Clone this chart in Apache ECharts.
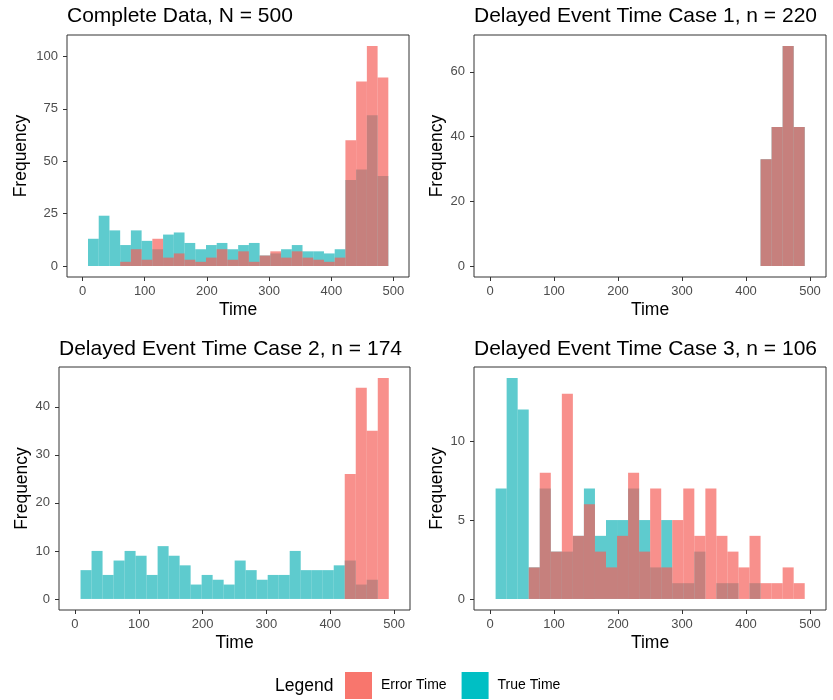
<!DOCTYPE html>
<html>
<head>
<meta charset="utf-8">
<script src="https://cdn.jsdelivr.net/npm/echarts@6/dist/echarts.min.js"></script>
<style>
  html, body { margin: 0; padding: 0; background: #fff; }
  #chart { width: 833px; height: 700px; }
</style>
</head>
<body>
<div id="chart"></div>
<script>
// Histogram bins shared by all four panels (28 bins of equal width)
const binStart = 8.75;
const binWidth = 17.25;

// Panel titles
const titles = [
  'Complete Data, N = 500',
  'Delayed Event Time Case 1, n = 220',
  'Delayed Event Time Case 2, n = 174',
  'Delayed Event Time Case 3, n = 106'
];

// Counts per bin: True Time
const trueAll   = [13,24,17,10,17,12,8,15,16,11,8,10,11,8,10,11,5,6,8,10,7,7,6,8,41,46,72,43];
const trueCase1 = [0,0,0,0,0,0,0,0,0,0,0,0,0,0,0,0,0,0,0,0,0,0,0,0,33,43,68,43];
const trueCase2 = [6,10,5,8,10,9,5,11,9,7,3,5,4,3,8,6,4,5,5,10,6,6,6,7,8,3,4,0];
const trueCase3 = [7,14,12,2,7,3,3,4,7,4,5,5,7,5,2,5,1,1,3,0,1,1,0,1,0,0,0,0];

// Counts per bin: Error Time
const errAll    = [0,0,0,2,8,3,13,4,6,3,2,4,8,3,7,2,5,7,4,7,4,3,2,4,60,88,105,90];
const errCase1  = [0,0,0,0,0,0,0,0,0,0,0,0,0,0,0,0,0,0,0,0,0,0,0,0,33,43,68,43];
const errCase2  = [0,0,0,0,0,0,0,0,0,0,0,0,0,0,0,0,0,0,0,0,0,0,0,0,26,44,35,46];
const errCase3  = [0,0,0,2,8,3,13,4,6,3,2,4,8,3,7,2,5,7,4,7,4,3,2,4,1,1,2,1];

// Axis tick labels
const xTicks = [0, 100, 200, 300, 400, 500];
const yTicksAll   = [0, 25, 50, 75, 100];
const yTicksCase1 = [0, 20, 40, 60];
const yTicksCase2 = [0, 10, 20, 30, 40];
const yTicksCase3 = [0, 5, 10];

const trueSets = [trueAll, trueCase1, trueCase2, trueCase3];
const errSets  = [errAll, errCase1, errCase2, errCase3];
const yTickSets = [yTicksAll, yTicksCase1, yTicksCase2, yTicksCase3];

const FONT = '"Liberation Sans", Arial, Helvetica, sans-serif';
const TRUE_FILL = 'rgba(22,179,184,0.69)';
const ERR_FILL  = 'rgba(245,94,88,0.69)';

// Plot-area rectangles for the 2x2 layout
const grids = [
  { left: 67,  top: 35,  width: 342, height: 242 },
  { left: 474, top: 35,  width: 352, height: 242 },
  { left: 59,  top: 367, width: 351, height: 243 },
  { left: 474, top: 367, width: 352, height: 243 }
];
const yNameGaps = [37, 26, 28, 26];

function toBins(counts) {
  const out = [];
  counts.forEach((c, i) => {
    if (c > 0) out.push([binStart + i * binWidth, binStart + (i + 1) * binWidth, c]);
  });
  return out;
}

function renderBin(color) {
  return function (params, api) {
    const p0 = api.coord([api.value(0), 0]);
    const p1 = api.coord([api.value(1), api.value(2)]);
    return {
      type: 'rect',
      shape: { x: p0[0], y: p1[1], width: p1[0] - p0[0], height: p0[1] - p1[1] },
      style: { fill: color }
    };
  };
}

const xAxes = [], yAxes = [], series = [], titleOpts = [];
for (let k = 0; k < 4; k++) {
  const ymax = Math.max(...trueSets[k], ...errSets[k]);
  const pad = ymax * 0.05;
  titleOpts.push({
    text: titles[k],
    left: grids[k].left,
    top: k < 2 ? 6 : 339,
    padding: 0,
    textStyle: { fontFamily: FONT, fontSize: 21, fontWeight: 'normal', color: '#000' }
  });
  xAxes.push({
    type: 'value', gridIndex: k, min: -25, max: 525, position: 'bottom',
    name: 'Time', nameLocation: 'middle', nameGap: 24,
    nameTextStyle: { fontFamily: FONT, fontSize: 17.5, color: '#000' },
    axisLine: { show: false, onZero: false },
    axisTick: { show: true, length: 4, customValues: xTicks, lineStyle: { color: '#333', width: 1 } },
    axisLabel: { customValues: xTicks, margin: 8, fontFamily: FONT, fontSize: 13, color: '#4d4d4d' },
    splitLine: { show: false }
  });
  yAxes.push({
    type: 'value', gridIndex: k, min: -pad, max: ymax + pad, position: 'left',
    name: 'Frequency', nameLocation: 'middle', nameGap: yNameGaps[k], nameRotate: 90,
    nameTextStyle: { fontFamily: FONT, fontSize: 17.5, color: '#000' },
    axisLine: { show: false, onZero: false },
    axisTick: { show: true, length: 4, customValues: yTickSets[k], lineStyle: { color: '#333', width: 1 } },
    axisLabel: { customValues: yTickSets[k], margin: 9, fontFamily: FONT, fontSize: 13, color: '#4d4d4d' },
    splitLine: { show: false }
  });
  series.push({
    type: 'custom', name: 'True Time', xAxisIndex: k, yAxisIndex: k,
    itemStyle: { color: TRUE_FILL },
    renderItem: renderBin(TRUE_FILL),
    encode: { x: [0, 1], y: 2 },
    data: toBins(trueSets[k]),
    silent: true
  });
  series.push({
    type: 'custom', name: 'Error Time', xAxisIndex: k, yAxisIndex: k,
    itemStyle: { color: ERR_FILL },
    renderItem: renderBin(ERR_FILL),
    encode: { x: [0, 1], y: 2 },
    data: toBins(errSets[k]),
    silent: true
  });
}

const chart = echarts.init(document.getElementById('chart'), null, { renderer: 'canvas' });
chart.setOption({
  animation: false,
  backgroundColor: '#fff',
  title: titleOpts,
  grid: grids.map(g => Object.assign({ show: true, borderColor: '#333', borderWidth: 1, backgroundColor: 'transparent' }, g)),
  xAxis: xAxes,
  yAxis: yAxes,
  legend: {
    left: 345, top: 672, padding: 0,
    itemWidth: 27, itemHeight: 27, itemGap: 15,
    icon: 'rect',
    selectedMode: false,
    textStyle: { fontFamily: FONT, fontSize: 14, color: '#000', padding: [0, 0, 0, 4] },
    data: [
      { name: 'Error Time', itemStyle: { color: '#F8766D' } },
      { name: 'True Time', itemStyle: { color: '#00BFC4' } }
    ]
  },
  graphic: [{
    type: 'text', left: 275, top: 677,
    style: { text: 'Legend', fontFamily: FONT, fontSize: 17.5, fill: '#000' }
  }],
  series: series
});
</script>
</body>
</html>
